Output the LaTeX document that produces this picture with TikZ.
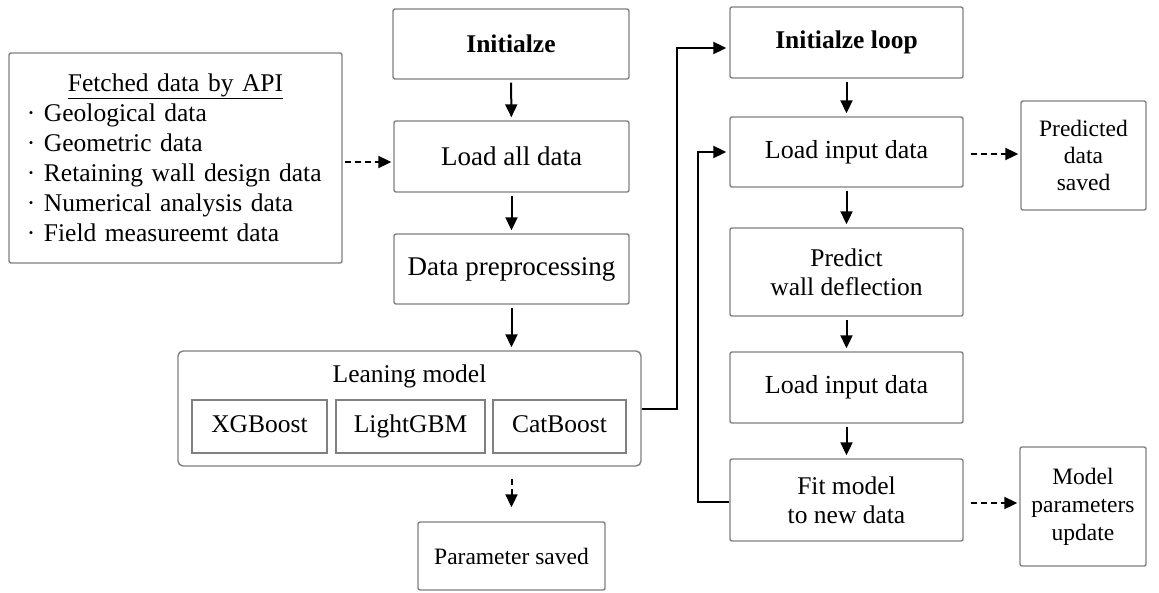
\documentclass[tikz,border=0pt]{standalone}
\usepackage{fontspec}
\setmainfont{Liberation Serif}
\usetikzlibrary{arrows.meta,calc}
\definecolor{boxgray}{RGB}{128,128,128}
\tikzset{
  box/.style={draw=boxgray, line width=1.4pt, rounded corners=2pt, inner sep=0pt, align=center,
              font=\fontsize{26}{30}\selectfont},
  sidebox/.style={box, font=\fontsize{23.5}{28}\selectfont},
  innerbox/.style={draw=boxgray, line width=1.4pt, inner sep=0pt, align=center,
              text height=18pt, text depth=6pt, font=\fontsize{25.5}{30}\selectfont},
  arr/.style={draw=black, line width=2pt, -{Triangle[length=13pt,width=12pt]}},
  darr/.style={arr, dash pattern=on 6pt off 4pt},
}
\begin{document}
\begin{tikzpicture}[x=1pt,y=-1pt]
\useasboundingbox (0,0) rectangle (1159,592);
% left column
\node[box, minimum width=236pt, minimum height=70pt, font=\fontsize{25.5}{30}\selectfont\bfseries] (init) at (511,44) {Initialze};
\node[box, minimum width=235pt, minimum height=71pt, font=\fontsize{27}{30}\selectfont] (load) at (511.5,156.5) {Load all data};
\node[box, minimum width=235pt, minimum height=70pt, font=\fontsize{27}{30}\selectfont] (prep) at (511.5,269) {Data preprocessing};
\node[box, minimum width=333pt, minimum height=210pt, text width=297pt, align=left,
      font=\fontsize{25.5}{30}\selectfont] (fetch) at (175.5,158)
  {\hspace*{\fill}\underline{Fetched data by API}\hspace*{\fill}\null\\
   · Geological data\\
   · Geometric data\\
   · Retaining wall design data\\
   · Numerical analysis data\\
   · Field measureemt data};
\node[box, rounded corners=5pt, minimum width=463pt, minimum height=115pt] (lean) at (409.5,408.5) {};
\node[font=\fontsize{25.5}{30}\selectfont, inner sep=0pt, text height=18pt, text depth=6pt] (leantitle) at (409.5,376) {Leaning model};
\node[innerbox, minimum width=135pt, minimum height=53pt] (xgb) at (259.5,426.5) {XGBoost};
\node[innerbox, minimum width=149pt, minimum height=53pt] (lgbm) at (410.5,426.5) {LightGBM};
\node[innerbox, minimum width=133pt, minimum height=53pt] (cat) at (559.5,426.5) {CatBoost};
\node[sidebox, minimum width=187pt, minimum height=68pt] (psaved) at (511.5,556) {Parameter saved};
% right column
\node[box, minimum width=233pt, minimum height=71pt, font=\fontsize{25.5}{30}\selectfont\bfseries] (iloop) at (846.5,42.5) {Initialze loop};
\node[box, minimum width=233pt, minimum height=70pt] (lin1) at (846.5,152) {Load input data};
\node[box, minimum width=233pt, minimum height=88pt, font=\fontsize{25.5}{29}\selectfont] (pred) at (846.5,272) {Predict\\wall deflection};
\node[box, minimum width=233pt, minimum height=71pt] (lin2) at (846.5,387.5) {Load input data};
\node[box, minimum width=233pt, minimum height=82pt, font=\fontsize{25.5}{29}\selectfont] (fit) at (846.5,500) {Fit model\\to new data};
\node[sidebox, minimum width=125pt, minimum height=109pt, font=\fontsize{23.5}{27}\selectfont] (pds) at (1083.5,155.5) {Predicted\\data\\saved};
\node[sidebox, minimum width=126pt, minimum height=119pt] (mpu) at (1083,506.5) {Model\\parameters\\update};
% arrows
\draw[arr, shorten <=3pt, shorten >=3pt] (init) -- (load);
\draw[arr, shorten <=3pt, shorten >=3pt] (load) -- (prep);
\draw[arr, shorten <=3pt, shorten >=3pt] (prep.south) -- (prep.south |- lean.north);
\draw[darr, shorten <=2pt, shorten >=2pt] (fetch.east |- 0,162) -- (load.west |- 0,162);
\draw[darr, shorten <=12pt, shorten >=14pt] (psaved.north |- lean.south) -- (psaved.north);
\draw[arr, shorten <=3pt, shorten >=3pt] (iloop) -- (lin1);
\draw[arr, shorten <=3pt, shorten >=3pt] (lin1) -- (pred);
\draw[arr, shorten <=3pt, shorten >=3pt] (pred) -- (lin2);
\draw[arr, shorten <=3pt, shorten >=3pt] (lin2) -- (fit);
\draw[darr, shorten <=7pt, shorten >=2pt] (lin1.east |- 0,154) -- (pds.west |- 0,154);
\draw[darr, shorten <=7pt, shorten >=2pt] (fit.east |- 0,503) -- (mpu.west |- 0,503);
\coordinate (c1) at (677,48);
\draw[arr, shorten >=3pt] (lean.east) -| (c1) -- (iloop.west |- c1);
\coordinate (c2) at (698,502);
\draw[arr, shorten >=3pt] (fit.west |- c2) -- (c2) |- (lin1.west);
\end{tikzpicture}
\end{document}
